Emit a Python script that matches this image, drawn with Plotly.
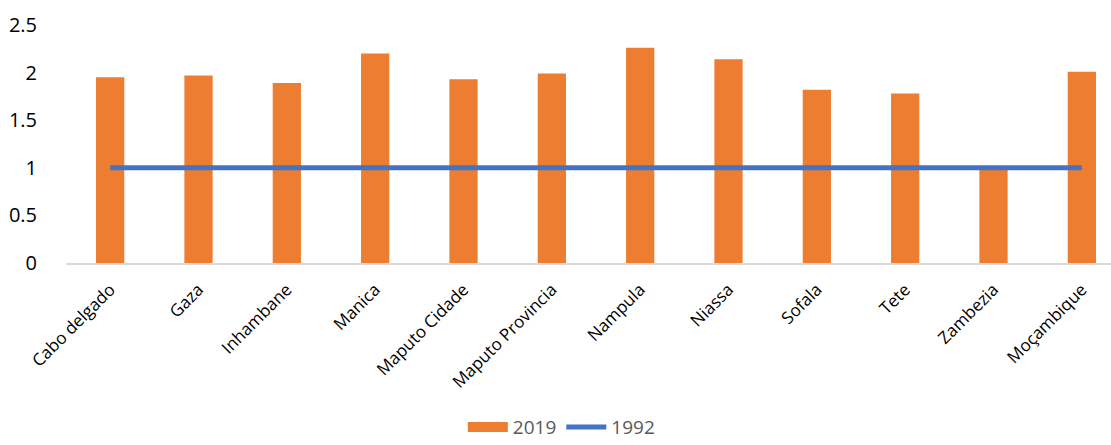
import plotly.graph_objects as go

categories = ["Cabo delgado", "Gaza", "Inhambane", "Manica", "Maputo Cidade",
              "Maputo Provincia", "Nampula", "Niassa", "Sofala", "Tete",
              "Zambezia", "Moçambique"]
values_2019 = [1.95, 1.97, 1.89, 2.20, 1.93, 1.99, 2.26, 2.14, 1.82, 1.78, 0.98, 2.01]
values_1992 = [1, 1, 1, 1, 1, 1, 1, 1, 1, 1, 1, 1]
y_ticks = [0, 0.5, 1, 1.5, 2, 2.5]
y_tick_text = ["0", "0.5", "1", "1.5", "2", "2.5"]

fig = go.Figure()
fig.add_trace(go.Bar(x=categories, y=values_2019, name="2019", showlegend=False,
                     marker=dict(color="#ED7D31", line=dict(width=0))))
# legend entry for the bars (wide swatch like the reference)
fig.add_trace(go.Scatter(x=[None], y=[None], name="2019", mode="lines",
                         line=dict(color="#ED7D31", width=14)))
fig.add_trace(go.Scatter(x=categories, y=values_1992, name="1992", mode="lines",
                         line=dict(color="#4472C4", width=5)))

fig.update_layout(
    width=1111, height=445,
    margin=dict(l=66, r=0, t=25, b=182, autoexpand=False),
    paper_bgcolor="white", plot_bgcolor="white",
    bargap=0.68,
    font=dict(family="Open Sans, Noto Sans, sans-serif", color="#000000"),
    showlegend=True,
    legend=dict(orientation="h", xref="paper", yref="paper",
                x=0.474, xanchor="center", y=-0.69, yanchor="middle",
                font=dict(size=19, color="#595959"), traceorder="normal",
                itemwidth=40),
)
fig.update_xaxes(
    type="category", range=[-0.5, 11.33],
    showline=True, linecolor="#D9D9D9", linewidth=2,
    showgrid=False, tickangle=-45,
    tickfont=dict(size=17, color="#000000"),
    ticks="outside", ticklen=8, tickcolor="rgba(0,0,0,0)",
)
fig.update_yaxes(
    range=[0, 2.5], tickvals=y_ticks, ticktext=y_tick_text,
    showgrid=False, zeroline=False, showline=False,
    tickfont=dict(size=20, color="#000000"),
    ticks="outside", ticklen=24, tickcolor="rgba(0,0,0,0)",
)

fig.write_html("out.html")
